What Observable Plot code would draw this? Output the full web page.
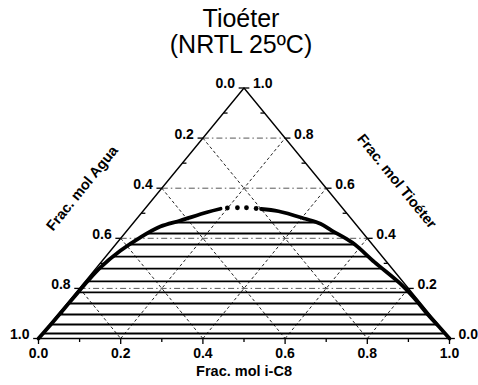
<!DOCTYPE html>
<html><head><meta charset="utf-8">
<script src="https://cdn.jsdelivr.net/npm/d3@7"></script>
<script src="https://cdn.jsdelivr.net/npm/@observablehq/plot@0.6"></script>
<style>
body{margin:0;background:#fff;}
#title{width:478px;height:57px;padding-top:5px;padding-left:4px;box-sizing:border-box;text-align:center;font:25px/26px "Liberation Sans",Arial,sans-serif;color:#000;}
</style></head><body>
<div id="title">Tioéter<br>(NRTL 25ºC)</div>
<div id="chart"></div>
<script>
// Ternary data: composition as fractions of i-C8 and Tioéter (Agua = 1 - iC8 - Tioéter)
const leftBranchC8 = [0, 0.002, 0.003, 0.004, 0.005, 0.009, 0.024, 0.046, 0.073, 0.110, 0.158, 0.184];
const leftBranchT  = [0, 0.06, 0.12, 0.18, 0.23, 0.285, 0.35, 0.404, 0.447, 0.471, 0.504, 0.518];
const rightBranchC8 = [0.283, 0.330, 0.410, 0.457, 0.498, 0.572, 0.665, 0.772, 0.835, 0.895, 0.948, 1.0];
const rightBranchT  = [0.517, 0.508, 0.478, 0.458, 0.431, 0.383, 0.305, 0.218, 0.16, 0.10, 0.05, 0.0];
const plaitDotsC8 = [0.199, 0.223, 0.245, 0.270];
const plaitDotsT  = [0.521, 0.522, 0.522, 0.519];
const tieT        = [0.463, 0.419, 0.375, 0.327, 0.279, 0.228, 0.184, 0.140, 0.096, 0.056, 0.020];
const tieLeftC8   = [0.098, 0.055, 0.034, 0.019, 0.009, 0.005, 0.004, 0.003, 0.003, 0.002, 0.001];
const tieRightC8  = [0.445, 0.517, 0.582, 0.639, 0.697, 0.760, 0.809, 0.855, 0.899, 0.942, 0.979];
const gridValues = [0.2, 0.4, 0.6, 0.8];
const tickValues = [0, 0.1, 0.2, 0.3, 0.4, 0.5, 0.6, 0.7, 0.8, 0.9, 1.0];
const labelValues = [0, 0.2, 0.4, 0.6, 0.8, 1.0];
const bottomTitle = "Frac. mol i-C8";
const leftTitle = "Frac. mol Agua";
const rightTitle = "Frac. mol Tioéter";

// ternary -> cartesian (x along base, y = Tioéter height)
const tern = (c8, t) => ({x: c8 + t / 2, y: t});

const leftBranch = leftBranchC8.map((c, i) => tern(c, leftBranchT[i]));
const rightBranch = rightBranchC8.map((c, i) => tern(c, rightBranchT[i]));
const plaitDots = plaitDotsC8.map((c, i) => tern(c, plaitDotsT[i]));
const ties = tieT.map((t, i) => {
  const a = tern(tieLeftC8[i], t), b = tern(tieRightC8[i], t);
  return {x1: a.x, y1: a.y, x2: b.x, y2: b.y};
});
const frame = [[0,0],[1,0],[0,1],[0,0]].map(([c,t]) => tern(c,t));

const seg = (p, q) => ({x1: p.x, y1: p.y, x2: q.x, y2: q.y});
const gridH = gridValues.map(v => seg(tern(0, v), tern(1 - v, v)));           // constant Tioéter
const gridA = gridValues.map(v => seg(tern(0, 1 - v), tern(1 - v, 0)));       // constant Agua
const gridC = gridValues.map(v => seg(tern(v, 0), tern(v, 1 - v)));           // constant i-C8

const isMajor = v => Math.round(v * 10) % 2 === 0;
const bottomTicks = tickValues.map(v => {
  const p = tern(v, 0);
  return {x1: p.x, y1: 0, x2: p.x, y2: isMajor(v) ? -0.022 : -0.014};
});
const leftTicks = tickValues.map(a => {        // Agua value a on left edge
  const p = tern(0, 1 - a);
  return {x1: p.x, y1: p.y, x2: p.x + (isMajor(a) ? -0.013 : 0.01), y2: p.y};
});
const rightTicks = tickValues.map(t => {       // Tioéter value on right edge
  const p = tern(1 - t, t);
  return {x1: p.x, y1: p.y, x2: p.x + (isMajor(t) ? 0.013 : -0.01), y2: p.y};
});

const fmt = v => v.toFixed(1);
const bottomLabels = labelValues.map(v => ({...tern(v, 0), text: fmt(v)}));
const leftLabels = labelValues.map(a => ({...tern(0, 1 - a), text: fmt(a)}));
const rightLabels = labelValues.map(t => ({...tern(1 - t, t), text: fmt(t)}));

const font = "'Liberation Sans', Arial, sans-serif";
const lab = {fontSize: 14, fontWeight: "bold", fill: "#000"};
const ttl = {fontSize: 14.5, fontWeight: "bold", fill: "#000"};

const chart = Plot.plot({
  width: 478, height: 328,
  marginLeft: 38, marginRight: 29, marginTop: 30.5, marginBottom: 47,
  x: {domain: [0, 1], axis: null},
  y: {domain: [0, 1], axis: null},
  style: {fontFamily: font, background: "white", color: "#000"},
  marks: [
    Plot.link(gridA, {x1: "x1", y1: "y1", x2: "x2", y2: "y2", stroke: "#222", strokeWidth: 1, strokeDasharray: "3,2.5"}),
    Plot.link(gridC, {x1: "x1", y1: "y1", x2: "x2", y2: "y2", stroke: "#222", strokeWidth: 1, strokeDasharray: "3,2.5"}),
    Plot.link(gridH, {x1: "x1", y1: "y1", x2: "x2", y2: "y2", stroke: "#444", strokeWidth: 0.9, strokeDasharray: "6,3,1.5,3"}),
    Plot.link(ties, {x1: "x1", y1: "y1", x2: "x2", y2: "y2", stroke: "#000", strokeWidth: 1.9}),
    Plot.line(frame, {x: "x", y: "y", stroke: "#000", strokeWidth: 1.4}),
    Plot.link(bottomTicks, {x1: "x1", y1: "y1", x2: "x2", y2: "y2", stroke: "#000", strokeWidth: 1.3}),
    Plot.link(leftTicks, {x1: "x1", y1: "y1", x2: "x2", y2: "y2", stroke: "#000", strokeWidth: 1.3}),
    Plot.link(rightTicks, {x1: "x1", y1: "y1", x2: "x2", y2: "y2", stroke: "#000", strokeWidth: 1.3}),
    Plot.line(leftBranch, {x: "x", y: "y", stroke: "#000", strokeWidth: 3.8, curve: "catmull-rom"}),
    Plot.line(rightBranch, {x: "x", y: "y", stroke: "#000", strokeWidth: 3.8, curve: "catmull-rom"}),
    Plot.dot(plaitDots, {x: "x", y: "y", r: 2.4, fill: "#000", stroke: null}),
    Plot.text(bottomLabels, {x: "x", y: "y", text: "text", dy: 15, ...lab}),
    Plot.text(leftLabels, {x: "x", y: "y", text: "text", textAnchor: "end", dx: -9, dy: -4, ...lab}),
    Plot.text(rightLabels, {x: "x", y: "y", text: "text", textAnchor: "start", dx: 9, dy: -4, ...lab}),
    Plot.text([tern(0.5, 0)], {x: "x", y: "y", text: [bottomTitle], dy: 33, ...ttl}),
    Plot.text([tern(0, 0.5)], {x: "x", y: "y", text: [leftTitle], dx: -59, dy: -25, rotate: -51, ...ttl}),
    Plot.text([tern(0.5, 0.5)], {x: "x", y: "y", text: [rightTitle], dx: 50, dy: -32, rotate: 51, ...ttl})
  ]
});
document.getElementById("chart").appendChild(chart);
</script>
</body></html>
